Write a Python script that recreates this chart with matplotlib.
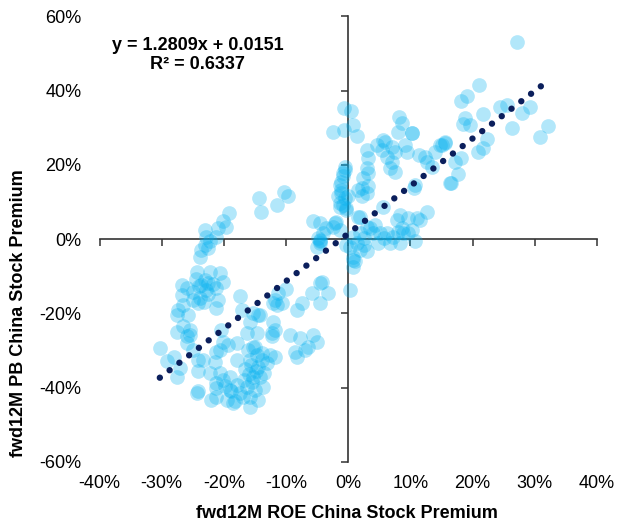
import matplotlib
matplotlib.use("Agg")
import matplotlib.pyplot as plt
import numpy as np
from matplotlib.ticker import PercentFormatter

plt.rcParams["font.family"] = ["Liberation Sans", "DejaVu Sans"]
plt.rcParams["axes.unicode_minus"] = False

# fwd12M ROE premium (%) vs fwd12M PB premium (%)
roe_pct = [
    # upper-left arm
    -19.2, -20.1, -19.7, -20.9, -23.0, -22.8, -22.2, -21.2, -23.6, -23.8, -22.5, -23.0,
    -14.3, -14.1, -11.4, -10.3, -9.7,
    # lower-left cluster
    -24.4, -22.2, -20.6, -20.1, -26.8, -26.0, -23.6, -22.8, -23.0, -21.2, -20.9, -23.8,
    -24.9, -26.5, -27.3, -21.2, -17.4, -17.1, -15.3, -25.7, -24.1, -14.2, -12.3, -12.1,
    -11.3, -27.6, -26.5, -27.6, -25.5, -26.0, -24.9, -30.3, -29.2, -28.1, -27.6, -27.1,
    -24.1, -23.3, -22.2, -21.2, -20.6, -20.4, -20.1, -20.6, -21.2, -19.3, -17.9, -16.3,
    -16.1, -15.0, -14.7, -13.9, -15.8, -14.5, -13.1, -16.6, -20.1, -19.0, -19.0, -17.9,
    -17.4, -16.3, -15.8, -15.0, -15.3, -14.2, -13.7, -21.2, -22.0, -24.1, -19.5, -18.2,
    -15.8, -14.5, -21.2, -24.4, -25.5, -26.0, -24.1, -21.5, -17.9,
    -24.0, -22.5, -21.8, -23.2, -25.0, -24.5, -18.8, -17.0, -15.5, -16.0, -19.8, -18.5,
    -14.8, -15.6, -22.6, -26.8, -13.5, -16.8,
    # centre-left
    -4.6, -5.1, 0.3, 0.8, -4.6, -5.9, -3.2, -4.6, -7.5, -8.3, -10.0, -11.8, -10.7, -11.5,
    0.3, -14.5, -15.8, -12.1, -11.8, -12.3, -9.4, -7.8, -5.6, -5.1, -6.4, -7.0, -8.6,
    -8.3, -14.7, -15.3, -13.9, -12.6, -11.8,
    # around the origin
    -5.7, -3.5, -4.0, -2.1, -1.3, -4.6, -4.8, -0.5, -0.8, -1.3, -1.1, -1.6, -0.5, -0.8,
    -1.3, -0.3, 1.6, 1.6,
    # upper centre
    -0.7, 0.5, -2.4, -0.7, 0.8, 1.4, 8.2, 8.7, 8.0, 10.2, 3.0, 4.6, 5.9, 5.4, 7.0, 7.5,
    6.2, 7.0, 6.7, 7.5, 3.2, 3.0, 3.2, 2.4, 2.2, 3.2, 3.0, 2.2, 9.1, 9.4, 11.3, 12.3,
    12.6, 13.4, 13.9, 15.0, 15.5, 10.7, 10.5, 16.4, -0.5, -0.8, -1.1, 0.0, 5.6, 10.3,
    # near zero, right
    -1.1, -1.3, -0.3, 1.9, 5.6, 8.3, 7.8, 9.6, 11.5, 12.6, 10.2, 8.0, 8.8, 6.7, 8.3,
    10.7, 4.8, 5.1, 6.2, 3.5, 4.3, 1.9, 0.8, 1.4, -0.3, 1.9, 3.0, 0.8, 1.1, 0.8, -4.3,
    -4.6, -2.4, -1.9, -4.6, 3.0, 4.0, 8.6, 9.6, 11.0,
    2.6, 5.8, 7.2, 2.5,
    # upper right
    27.2, 21.0, 19.1, 18.1, 24.4, 25.6, 29.2, 28.0, 21.7, 18.8, 18.4, 19.6, 26.3, 32.2,
    30.8, 22.3, 21.7, 20.9, 15.5, 14.7, 18.2, 17.2, 17.7, 16.6,
]
pb_pct = [
    7.0, 5.0, 3.4, 3.0, 2.5, 0.7, -0.6, 0.7, -2.9, -4.7, -2.4, -1.5,
    11.0, 7.4, 9.2, 12.8, 11.7,
    -8.7, -8.7, -9.2, -11.4, -12.3, -13.2, -12.3, -13.6, -11.0, -13.2, -16.3, -15.9,
    -16.3, -17.7, -19.0, -18.6, -15.4, -19.0, -19.9, -20.4, -17.2, -20.4, -25.3, -17.2,
    -14.5, -20.5, -23.5, -24.9, -25.8, -28.0, -29.8, -29.3, -32.9, -31.6, -37.0, -34.7,
    -35.6, -32.5, -36.1, -38.8, -36.1, -24.4, -27.6, -29.8, -30.3, -28.5, -28.0, -25.3,
    -29.8, -28.9, -31.1, -32.5, -32.5, -34.3, -33.4, -35.0, -37.9, -37.0, -40.6, -39.2,
    -41.5, -39.7, -42.4, -40.6, -37.0, -37.0, -39.7, -42.4, -43.3, -41.0, -43.3, -43.7,
    -45.1, -43.3, -40.1, -41.5, -24.4, -26.2, -32.5, -33.0, -32.5,
    -12.6, -14.8, -12.0, -16.8, -14.2, -10.6, -41.0, -42.6, -38.4, -36.2, -39.4, -44.0,
    -35.6, -33.8, -11.8, -15.0, -36.0, -37.8,
    -0.2, -2.0, -2.0, -5.6, -11.8, -14.5, -14.5, -17.2, -17.2, -19.0, -13.5, -16.3, -17.2, -17.7,
    -13.6, -20.4, -22.2, -22.2, -24.4, -26.2, -25.8, -26.6, -25.8, -27.6, -28.9, -29.8, -30.3,
    -31.6, -25.3, -28.9, -30.7, -31.1, -31.6,
    4.9, 3.0, 1.6, 4.3, 2.5, -1.1, 0.3, 18.7, 16.9, 14.6, 13.3, 11.5, 11.0, 9.2,
    8.8, 7.9, 13.3, 6.1,
    35.3, 34.4, 29.0, 29.4, 30.8, 27.8, 33.0, 31.2, 29.0, 28.5, 24.0, 25.4, 26.3, 24.0, 24.9, 23.6,
    22.2, 20.9, 19.1, 18.2, 21.8, 19.1, 17.8, 16.4, 13.7, 14.2, 12.4, 11.5, 25.4, 23.6, 22.7, 22.2,
    20.9, 19.5, 23.6, 25.4, 26.3, 14.6, 13.7, 15.1, 19.5, 17.8, 15.5, 11.5, 26.7, 28.7,
    12.4, 9.7, 8.3, 6.1, 8.8, 6.5, 5.2, 5.7, 5.2, 7.4, 2.5, 2.0, 1.6, -1.1, -1.1,
    -0.6, -1.1, 1.6, 1.6, 3.0, 3.8, 1.6, 0.7, -1.1, -1.5, -2.9, -3.3, -4.7, -6.0, -7.4, -11.4,
    4.3, 3.4, 4.7, -0.6, 3.4, 1.6, 3.0, 1.6, 5.7,
    0.2, 0.4, 0.6, -1.6,
    53.0, 41.4, 38.6, 37.2, 35.7, 36.1, 35.7, 33.9, 33.7, 32.6, 31.0, 30.8, 29.9, 30.5,
    27.5, 27.0, 24.5, 23.6, 25.8, 25.4, 21.8, 20.9, 17.5, 15.2,
]

# Excel linear trendline shown on the chart
slope = 1.2809
intercept = 0.0151
r_squared = 0.6337

x_ticks = [-0.4, -0.3, -0.2, -0.1, 0.0, 0.1, 0.2, 0.3, 0.4]
y_ticks = [-0.6, -0.4, -0.2, 0.0, 0.2, 0.4, 0.6]

x = np.array(roe_pct) / 100
y = np.array(pb_pct) / 100

W, H = 617, 522
fig = plt.figure(figsize=(W / 100, H / 100), dpi=100)
rect = [99.5 / W, 1 - 462 / H, (597 - 99.5) / W, (462 - 16.4) / H]
ax = fig.add_axes(rect)

ax.scatter(x, y, s=112, color="#00B0F0", alpha=0.3, linewidths=0, zorder=2)

xs = np.array([x.min(), 0.312])
ax.plot(xs, slope * xs + intercept, color="#0B1F5C", lw=4.6,
        linestyle=(0, (0.01, 1.915)), dash_capstyle="round", zorder=3)

ax.set_xlim(-0.4, 0.4)
ax.set_ylim(-0.6, 0.6)
for side in ["top", "right"]:
    ax.spines[side].set_visible(False)
ax.spines["left"].set_position(("data", 0))
ax.spines["bottom"].set_position(("data", 0))
for side in ["left", "bottom"]:
    ax.spines[side].set_color("#333333")
    ax.spines[side].set_linewidth(1.2)
    ax.spines[side].set_zorder(1)
ax.set_xticks(x_ticks)
ax.set_yticks(y_ticks)
ax.tick_params(direction="out", length=5, width=1.1, color="#333333",
               labelbottom=False, labelleft=False)

# tick labels sit on the plot edges, not on the zero lines
lab = fig.add_axes(rect, frameon=False)
lab.set_xlim(-0.4, 0.4)
lab.set_ylim(-0.6, 0.6)
lab.set_xticks(x_ticks)
lab.set_yticks(y_ticks)
lab.xaxis.set_major_formatter(PercentFormatter(1, decimals=0))
lab.yaxis.set_major_formatter(PercentFormatter(1, decimals=0))
lab.tick_params(axis="x", length=0, pad=9, labelsize=13)
lab.tick_params(axis="y", length=0, pad=13, labelsize=13)

fig.text(347 / W, 1 - 513 / H, "fwd12M ROE China Stock Premium",
         ha="center", va="center", fontsize=13, fontweight="bold")
fig.text(19 / W, 1 - 313 / H, "fwd12M PB China Stock Premium", rotation=90,
         ha="center", va="center", fontsize=13, fontweight="bold")

fig.text(197.5 / W, 1 - 45 / H, f"y = {slope:.4f}x + {intercept:.4f}",
         ha="center", va="center", fontsize=13, fontweight="bold")
fig.text(197.5 / W, 1 - 65 / H, f"R² = {r_squared:.4f}",
         ha="center", va="center", fontsize=13, fontweight="bold")

fig.savefig("out.png", dpi=100)
